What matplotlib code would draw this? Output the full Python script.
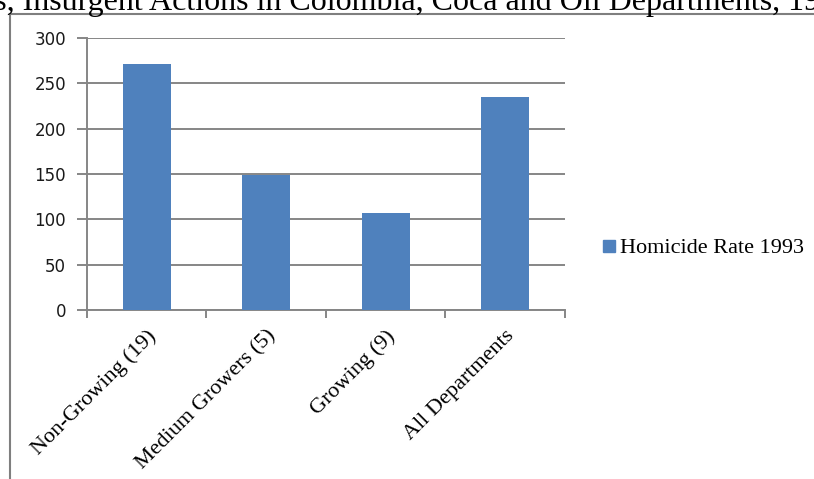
import matplotlib.pyplot as plt
from matplotlib.lines import Line2D

categories = ["Non-Growing (19)", "Medium Growers (5)", "Growing (9)", "All Departments"]
homicide_rate = [271, 149, 107, 235]
series_name = "Homicide Rate 1993"
yticks = [0, 50, 100, 150, 200, 250, 300]
title = "Homicides, Insurgent Actions in Colombia, Coca and Oil Departments, 1993"

bar_color = "#4f81bd"
grid_color = "#868686"

fig = plt.figure(figsize=(8.14, 4.79), dpi=100)
ax = fig.add_axes([0.1069, 0.3528, 0.5871, 0.5679])

x = list(range(len(categories)))
ax.bar(x, homicide_rate, width=0.4, color=bar_color, label=series_name, zorder=3)

ax.set_xlim(-0.5, len(categories) - 0.5)
ax.set_ylim(0, 300)
ax.set_yticks(yticks)
ax.set_yticklabels([str(v) for v in yticks], fontsize=12, color="#1a1a1a")
ax.yaxis.grid(True, color=grid_color, linewidth=1.4, zorder=0)
ax.tick_params(axis="y", length=7, width=1.4, color=grid_color, pad=8)

# boundaries get tick marks, category names sit on minor ticks
ax.set_xticks([i - 0.5 for i in range(len(categories) + 1)])
ax.set_xticklabels([])
ax.tick_params(axis="x", which="major", length=6, width=1.4, color=grid_color)
ax.set_xticks(x, minor=True)
ax.set_xticklabels(categories, minor=True, rotation=45, ha="right",
                   rotation_mode="anchor", fontsize=16, family="Liberation Serif")
ax.tick_params(axis="x", which="minor", length=0, pad=12)

for side in ["top", "right"]:
    ax.spines[side].set_visible(False)
ax.spines["left"].set_color(grid_color)
ax.spines["left"].set_linewidth(1.4)
ax.spines["bottom"].set_color(grid_color)
ax.spines["bottom"].set_linewidth(1.4)

handles = [Line2D([], [], marker="s", linestyle="none", markersize=9,
                  markerfacecolor=bar_color, markeredgecolor=bar_color)]
fig.legend(handles, [series_name], loc="center left", bbox_to_anchor=(0.71, 0.482),
           frameon=False, prop={"family": "Liberation Serif", "size": 16},
           handletextpad=0.0, handlelength=1.0)

# chart frame and clipped caption
fig.add_artist(Line2D([10 / 814, 10 / 814], [0, 1 - 14 / 479],
                      transform=fig.transFigure, color="#7f7f7f", linewidth=1.5))
fig.add_artist(Line2D([10 / 814, 1], [1 - 14 / 479, 1 - 14 / 479],
                      transform=fig.transFigure, color="#7f7f7f", linewidth=1.5))
fig.text(-0.162, 1 - 10 / 479, title, ha="left", va="baseline", fontsize=23,
         family="Liberation Serif")

fig.savefig("out.png", dpi=100)
